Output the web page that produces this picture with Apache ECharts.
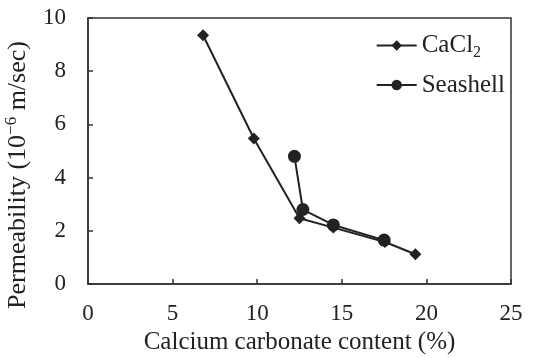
<!DOCTYPE html>
<html>
<head>
<meta charset="utf-8">
<script src="https://cdn.jsdelivr.net/npm/echarts@6/dist/echarts.min.js"></script>
<style>
  html, body { margin: 0; padding: 0; background: #fff; }
  #chart { width: 533px; height: 358px; }
</style>
</head>
<body>
<div id="chart"></div>
<script>
// values
const cacl2X = [6.8, 9.8, 12.5, 14.5, 17.55, 19.35];
const cacl2Y = [9.35, 5.47, 2.47, 2.12, 1.58, 1.12];
const shellX = [12.2, 12.7, 14.5, 17.5];
const shellY = [4.8, 2.8, 2.22, 1.65];

const FONT = '"Liberation Serif", "DejaVu Serif", serif';
const INK = '#222';

function pairs(xs, ys) {
  return xs.map((x, i) => [x, ys[i]]);
}

const chart = echarts.init(document.getElementById('chart'));
chart.setOption({
  animation: false,
  grid: {
    left: 88, right: 22, top: 18, bottom: 74,
    outerBoundsMode: 'none',
    show: true, borderColor: '#333', borderWidth: 1.5
  },
  legend: {
    right: 23, top: 28, orient: 'vertical', itemGap: 12,
    itemWidth: 40, itemHeight: 13,
    data: ['CaCl2', 'Seashell'],
    formatter: name => name === 'CaCl2' ? '{n|CaCl}{s|2}' : '{n|Seashell}',
    textStyle: {
      fontFamily: FONT, fontSize: 25, color: INK,
      rich: {
        n: { fontFamily: FONT, fontSize: 25, color: INK },
        s: { fontFamily: FONT, fontSize: 16, color: INK, padding: [14, 0, 0, 0] }
      }
    }
  },
  xAxis: {
    type: 'value', min: 0, max: 25, interval: 5,
    name: 'Calcium carbonate content (%)',
    nameLocation: 'middle', nameGap: 45,
    nameTextStyle: { fontFamily: FONT, fontSize: 25, color: INK },
    axisLine: { lineStyle: { color: '#333', width: 1.5 } },
    axisTick: { inside: true, length: 5, lineStyle: { color: '#333', width: 1.5 } },
    axisLabel: { fontFamily: FONT, fontSize: 23, color: INK, margin: 18 },
    splitLine: { show: false }
  },
  yAxis: {
    type: 'value', min: 0, max: 10, interval: 2,
    name: '{t|Permeability (10}{sup|−6}{t| m/sec)}',
    nameLocation: 'middle', nameGap: 55,
    nameTextStyle: {
      fontFamily: FONT, fontSize: 26, color: INK,
      padding: [0, 48, 0, 0],
      rich: {
        t: { fontFamily: FONT, fontSize: 26, color: INK },
        sup: { fontFamily: FONT, fontSize: 17, color: INK, padding: [0, 0, 13, 0] }
      }
    },
    axisLine: { lineStyle: { color: '#333', width: 1.5 } },
    axisTick: { inside: true, length: 5, lineStyle: { color: '#333', width: 1.5 } },
    axisLabel: { fontFamily: FONT, fontSize: 23, color: INK, margin: 22 },
    splitLine: { show: false }
  },
  series: [
    {
      name: 'CaCl2', type: 'line', data: pairs(cacl2X, cacl2Y),
      symbol: 'diamond', symbolSize: 12,
      lineStyle: { color: INK, width: 2 },
      itemStyle: { color: INK }
    },
    {
      name: 'Seashell', type: 'line', data: pairs(shellX, shellY),
      symbol: 'circle', symbolSize: 13,
      lineStyle: { color: INK, width: 2 },
      itemStyle: { color: INK }
    }
  ]
});
</script>
</body>
</html>
